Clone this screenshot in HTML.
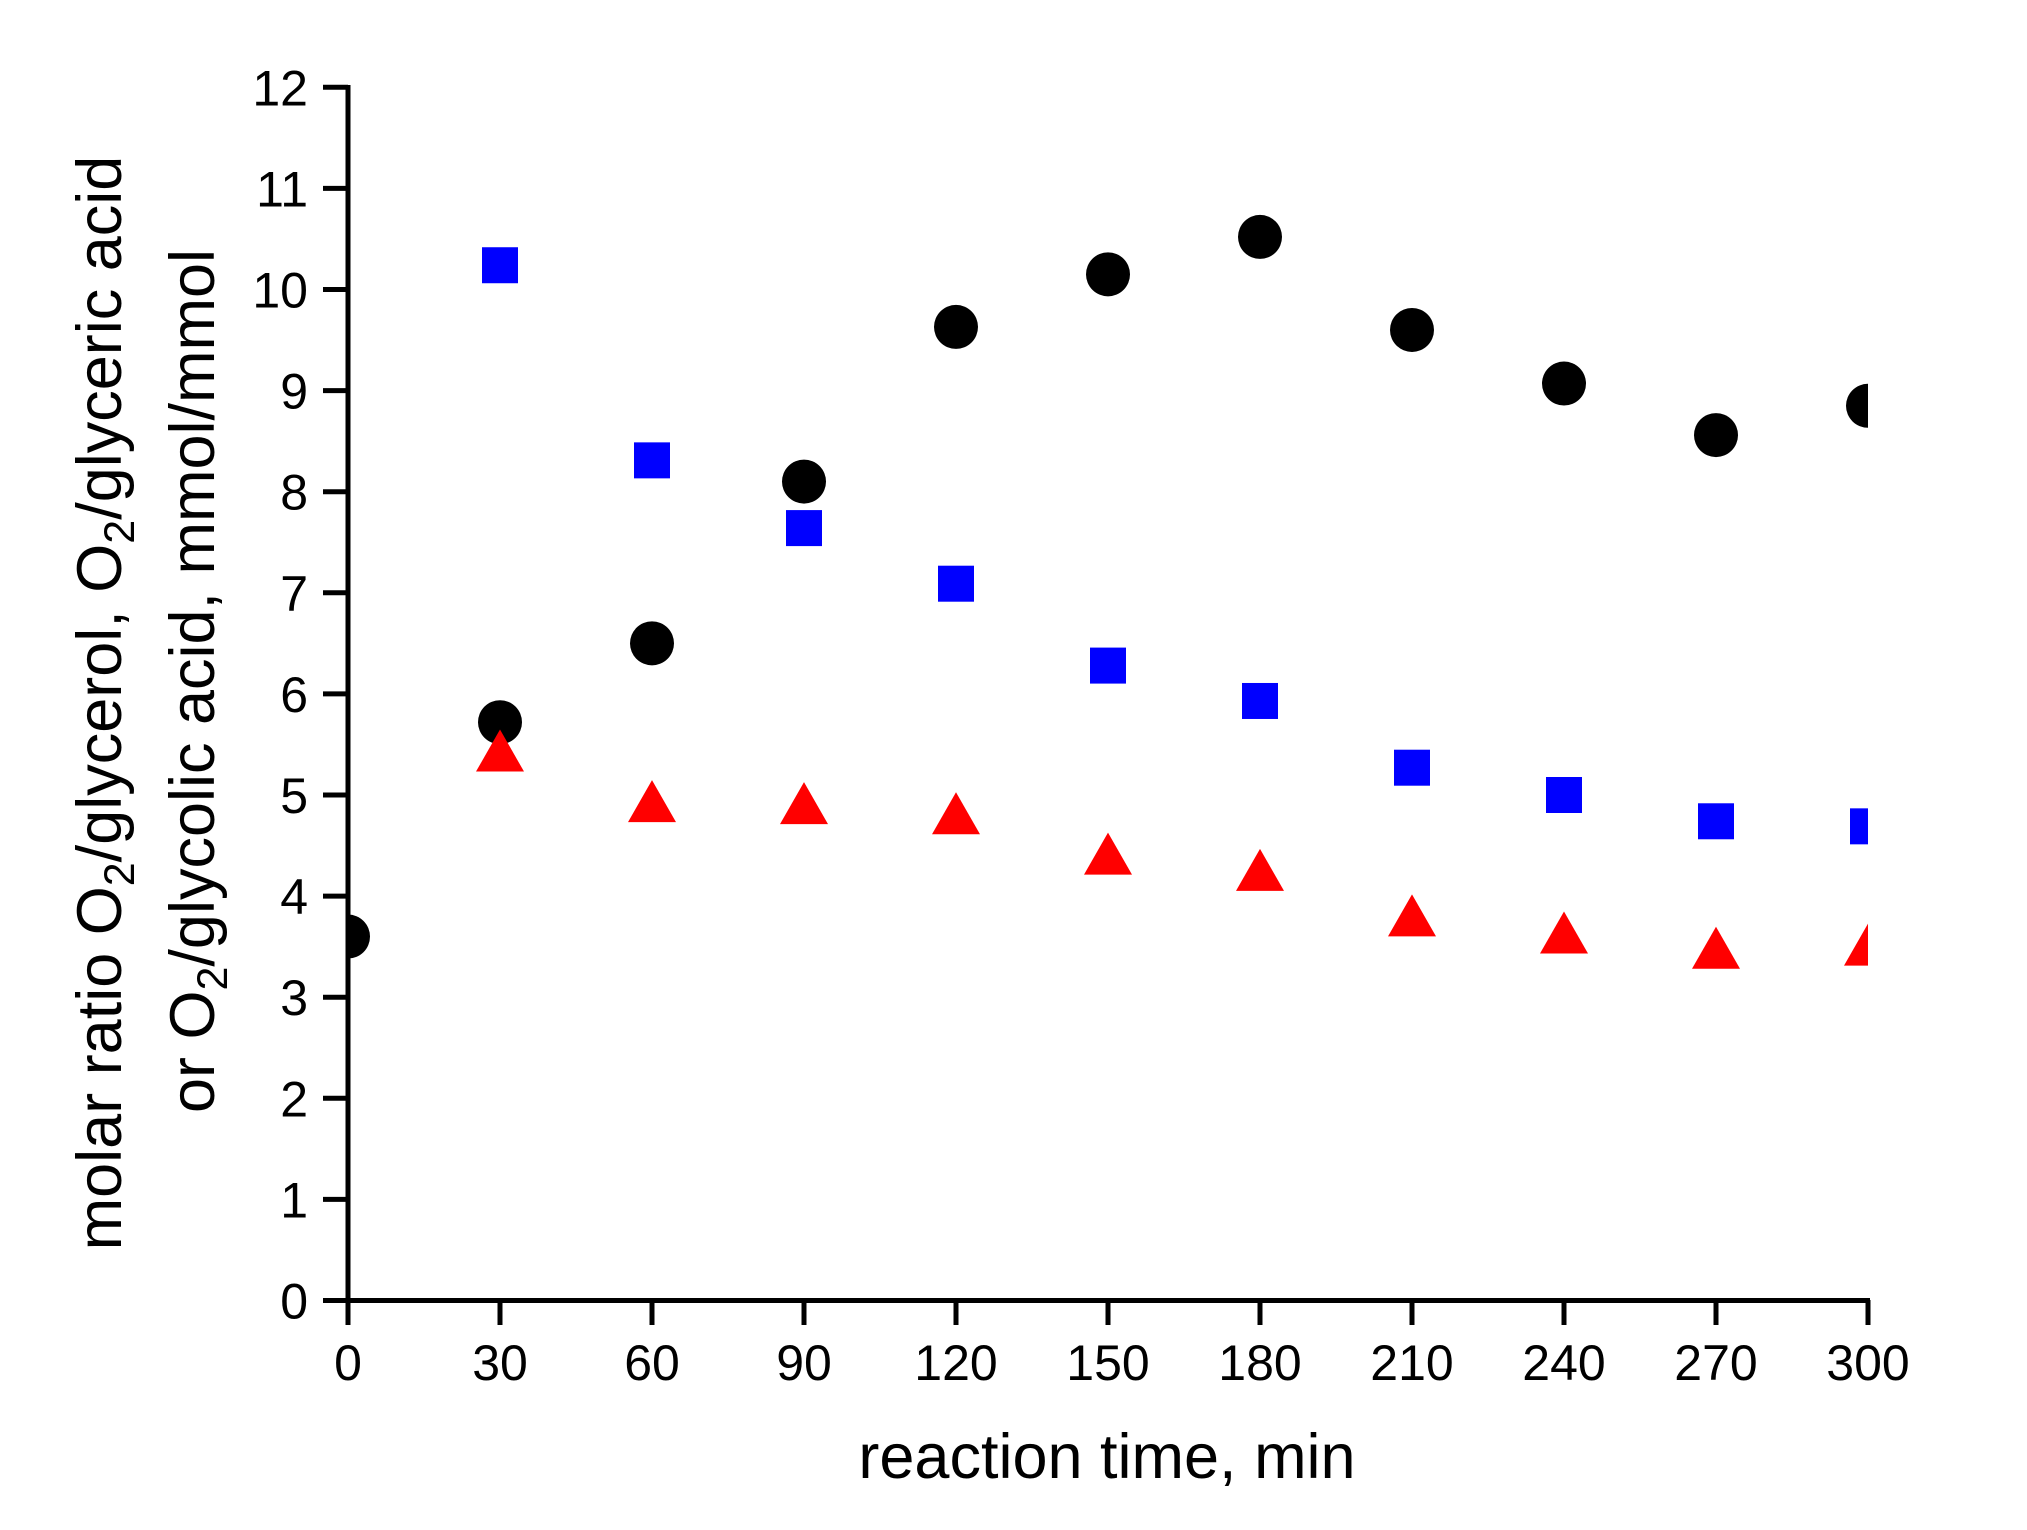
<!DOCTYPE html>
<html><head><meta charset="utf-8"><style>
html,body{margin:0;padding:0;background:#fff;}
svg{display:block;font-family:"Liberation Sans",Arial,sans-serif;}
</style></head><body>
<svg id="s" width="2027" height="1530" viewBox="0 0 2027 1530" xmlns="http://www.w3.org/2000/svg">
<defs><clipPath id="c"><rect x="348" y="0" width="1520" height="1300"/></clipPath></defs>
<g id="ax" stroke="#000" stroke-width="5" fill="none">
<line x1="348" y1="85" x2="348" y2="1325"/>
<line x1="323" y1="1300.5" x2="1870" y2="1300.5"/>
</g>
<g id="lab" font-size="50" fill="#000"></g>
<g id="pts" clip-path="url(#c)"></g>
<text x="1107" y="1478" font-size="63" text-anchor="middle">reaction time, min</text>
<text transform="translate(121,703) rotate(-90)" font-size="63" text-anchor="middle">molar ratio O<tspan font-size="43" dy="13">2</tspan><tspan dy="-13">/glycerol, O</tspan><tspan font-size="43" dy="13">2</tspan><tspan dy="-13">/glyceric acid</tspan></text>
<text transform="translate(214,681) rotate(-90)" font-size="63" text-anchor="middle">or O<tspan font-size="43" dy="13">2</tspan><tspan dy="-13">/glycolic acid, mmol/mmol</tspan></text>
</svg>
<script>
var NS="http://www.w3.org/2000/svg";
function X(t){return 348+t*1520/300;}
function Y(v){return 1300.5-v*101.1;}
function el(p,n,a,txt){var e=document.createElementNS(NS,n);for(var k in a)e.setAttribute(k,a[k]);if(txt!==undefined)e.textContent=txt;document.getElementById(p).appendChild(e);return e;}
for(var i=0;i<=12;i++){var y=Y(i);el('ax','line',{x1:323,y1:y,x2:348,y2:y});el('lab','text',{x:308,y:y+18,'text-anchor':'end'},String(i));}
for(var t=0;t<=300;t+=30){var x=X(t);el('ax','line',{x1:x,y1:1300,x2:x,y2:1325});el('lab','text',{x:x,y:1380,'text-anchor':'middle'},String(t));}
var circ=[[0,3.6],[30,5.72],[60,6.5],[90,8.1],[120,9.63],[150,10.15],[180,10.52],[210,9.6],[240,9.07],[270,8.56],[300,8.85]];
var sq=[[30,10.24],[60,8.31],[90,7.64],[120,7.09],[150,6.28],[180,5.93],[210,5.27],[240,5.0],[270,4.74],[300,4.69]];
var tri=[[30,5.4],[60,4.9],[90,4.88],[120,4.78],[150,4.38],[180,4.22],[210,3.77],[240,3.6],[270,3.45],[300,3.48]];
circ.forEach(function(d){el('pts','circle',{cx:X(d[0]),cy:Y(d[1]),r:22,fill:'#000'});});
sq.forEach(function(d){var x=X(d[0]),y=Y(d[1]);el('pts','rect',{x:x-18,y:y-18,width:36,height:36,fill:'#0000ff'});});
tri.forEach(function(d){var x=X(d[0]),y=Y(d[1]);el('pts','polygon',{points:(x)+','+(y-25)+' '+(x+24)+','+(y+17)+' '+(x-24)+','+(y+17),fill:'#ff0000'});});
</script>
</body></html>
